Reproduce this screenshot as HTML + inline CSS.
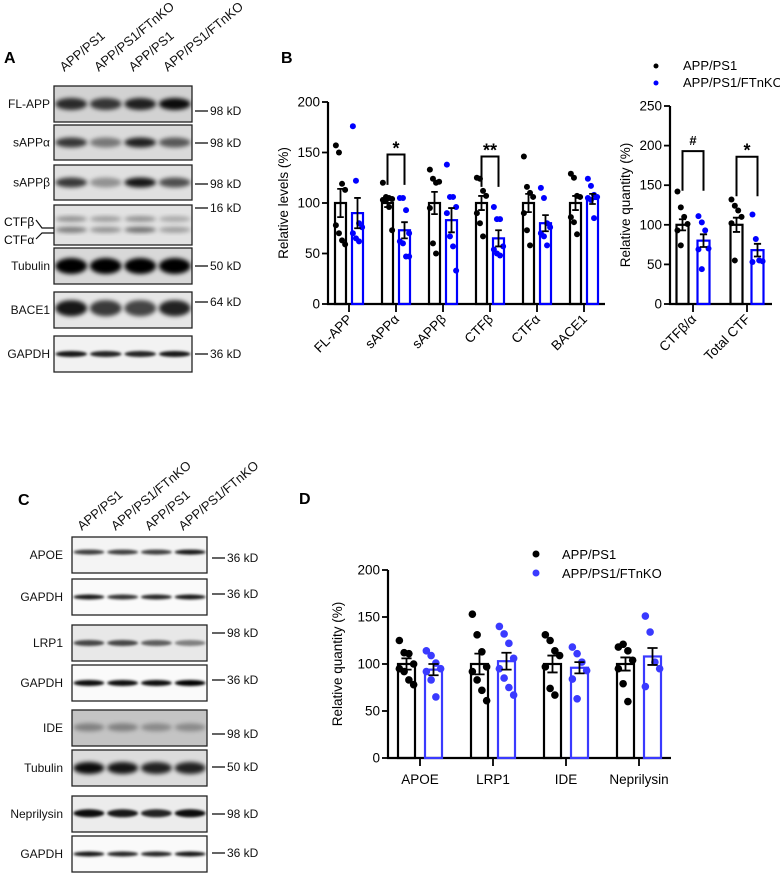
<!DOCTYPE html>
<html><head><meta charset="utf-8"><style>
html,body{margin:0;padding:0;background:#fff;}
svg{display:block;font-family:"Liberation Sans",Arial,sans-serif;}
</style></head><body>
<svg id="fig" width="780" height="874" viewBox="0 0 780 874" xmlns="http://www.w3.org/2000/svg">
<defs>
<filter id="blur2" x="-20%" y="-50%" width="140%" height="200%"><feGaussianBlur stdDeviation="2.2"/></filter>
<filter id="blur1" x="-20%" y="-50%" width="140%" height="200%"><feGaussianBlur stdDeviation="1.2"/></filter>
</defs>
<g id="panelA"></g>
<g id="panelB"></g>
<g id="panelC"></g>
<g id="panelD"></g>
</svg>
<script>
// ---------- Chart B data ----------
const bCategories = ["FL-APP","sAPPα","sAPPβ","CTFβ","CTFα","BACE1"];
const bMeanCtrl = [100,100,100,100,100,100];
const bSemCtrl = [14,4,11,7,9,7];
const bMeanKO = [90,73,83,65,80,104];
const bSemKO = [15,8,12,8,8,5];
const bPtsCtrl = [[157,150,119,113,78,70,63,59],[120,106,105,104,103,103,96,73],[133,124,120,121,95,60,50],[125,124,112,107,90,80,67],[146,116,110,106,90,73,58],[129,125,107,106,86,81,69]];
const bPtsKO = [[176,122,80,76,70,65,62],[105,105,93,70,62,60,47,47],[138,106,106,96,90,67,57,33],[96,84,84,57,54,50,48],[115,105,80,76,70,67,58],[124,117,108,106,105,103,85]];
const bTicks = [0,50,100,150,200];
const bSig = [null,"*",null,"**",null,null];
const bSigLevel = [null,148,null,146,null,null];
// ---------- Chart B right ----------
const rCategories = ["CTFβ/α","Total CTF"];
const rMeanCtrl = [100,100];
const rSemCtrl = [7,9];
const rMeanKO = [80,68];
const rSemKO = [8,8];
const rPtsCtrl = [[142,122,110,101,93,74],[132,124,118,110,102,55]];
const rPtsKO = [[111,103,93,70,69,44],[113,82,55,54,53]];
const rTicks = [0,50,100,150,200,250];
const rSig = ["#","*"];
const rSigLevel = [193,186];
// ---------- Chart D ----------
const dCategories = ["APOE","LRP1","IDE","Neprilysin"];
const dMeanCtrl = [100,100,100,100];
const dSemCtrl = [6,11,9,7];
const dMeanKO = [94,103,96,108];
const dSemKO = [6,9,6,9];
const dPtsCtrl = [[125,112,111,100,95,92,83,78],[153,131,113,97,92,83,72,61],[131,125,114,109,97,74,67],[118,121,114,104,95,79,60]];
const dPtsKO = [[114,109,101,95,92,83,65],[140,132,122,106,95,85,75,67],[118,111,102,93,84,63],[151,134,102,95,76]];
const dTicks = [0,50,100,150,200];

const NS="http://www.w3.org/2000/svg";
function mk(parent,tag,attrs,text){const e=document.createElementNS(NS,tag);for(const k in attrs)e.setAttribute(k,attrs[k]);if(text!==undefined)e.textContent=text;parent.appendChild(e);return e;}

// ---------- Blots ----------
function blotPanel(g,x0,x1,rows,labelX,kdX){
  const lanes=4,lw=(x1-x0)/lanes;
  rows.forEach((r,ri)=>{
    const bx=mk(g,"g",{});
    
    
    mk(bx,"rect",{x:x0,y:r.y0,width:x1-x0,height:r.y1-r.y0,fill:r.bg,stroke:"#222","stroke-width":1.3});
    const cp="cp"+g.id+ri;
    const c=mk(bx,"clipPath",{id:cp});mk(c,"rect",{x:x0,y:r.y0,width:x1-x0,height:r.y1-r.y0});
    const bg=mk(bx,"g",{"clip-path":"url(#"+cp+")"});
    r.bands.forEach(b=>{
      for(let i=0;i<lanes;i++){
        const cx=x0+lw*(i+0.5);
        mk(bg,"ellipse",{cx:cx,cy:r.y0+(r.y1-r.y0)*b.pos,rx:lw*0.46,ry:b.h,fill:"#000","fill-opacity":b.int[i],filter:"url(#"+(b.blur||"blur2")+")"});
      }
    });
    if(r.label){
      const t=mk(bx,"text",{x:labelX,y:(r.y0+r.y1)/2+4,"text-anchor":"end","font-size":12,fill:"#111"},r.label);
      
    }
    if(r.kd){
      const ky=r.kdY;
      mk(bx,"line",{x1:kdX,x2:kdX+13,y1:ky,y2:ky,stroke:"#111","stroke-width":1.3});
      const t=mk(bx,"text",{x:kdX+15,y:ky+4,"font-size":12,fill:"#111"},r.kd);
      
    }
  });
}
function laneHeaders(g,x0,x1,y,labels){
  const lw=(x1-x0)/4;
  labels.forEach((l,i)=>{
    const cx=x0+lw*(i+0.5)-7;
    const t=mk(g,"text",{x:cx,y:y,"font-size":13,fill:"#111",transform:"rotate(-40 "+cx+" "+y+")"},l);
    
  });
}
const lanesLbl=["APP/PS1","APP/PS1/FTnKO","APP/PS1","APP/PS1/FTnKO"];
const A=document.getElementById("panelA");
mk(A,"text",{x:4,y:63,"font-size":16,"font-weight":"bold"},"A");
laneHeaders(A,54,192,72,lanesLbl);
blotPanel(A,54,192,[
 {name:"fl-app",label:"FL-APP",y0:86,y1:122,bg:"#d2d2d2",kd:"98 kD",kdY:111,bands:[{pos:0.5,h:6,int:[0.8,0.75,0.85,0.95]}]},
 {name:"sappa",label:"sAPPα",y0:125,y1:160,bg:"#dadada",kd:"98 kD",kdY:143,bands:[{pos:0.5,h:5,int:[0.75,0.45,0.85,0.6]}]},
 {name:"sappb",label:"sAPPβ",y0:165,y1:200,bg:"#e0e0e0",kd:"98 kD",kdY:184,bands:[{pos:0.5,h:5,int:[0.75,0.35,0.9,0.65]}]},
 {name:"ctf",label:"",y0:205,y1:245,bg:"#e2e2e2",kd:"16 kD",kdY:208,bands:[{pos:0.35,h:3,int:[0.35,0.3,0.35,0.25]},{pos:0.62,h:3,int:[0.45,0.35,0.5,0.3]}]},
 {name:"tubulin",label:"Tubulin",y0:248,y1:284,bg:"#d8d8d8",kd:"50 kD",kdY:266,bands:[{pos:0.5,h:8,int:[1,1,1,1]}]},
 {name:"bace1",label:"BACE1",y0:292,y1:328,bg:"#e6e6e6",kd:"64 kD",kdY:302,bands:[{pos:0.45,h:8,int:[0.9,0.75,0.7,0.85]}]},
 {name:"gapdh",label:"GAPDH",y0:336,y1:372,bg:"#f2f2f2",kd:"36 kD",kdY:354,bands:[{pos:0.5,h:3,int:[0.9,0.85,0.85,0.9],blur:"blur1"}]}
],50,195);
mk(A,"text",{x:4,y:226,"font-size":12},"CTFβ");
mk(A,"text",{x:4,y:244,"font-size":12},"CTFα");
mk(A,"polyline",{points:"36,220 42,228 54,228",fill:"none",stroke:"#111","stroke-width":1.2});
mk(A,"polyline",{points:"36,239 42,233 54,233",fill:"none",stroke:"#111","stroke-width":1.2});

const C=document.getElementById("panelC");
mk(C,"text",{x:18,y:505,"font-size":16,"font-weight":"bold"},"C");
laneHeaders(C,72,207,531,lanesLbl);
blotPanel(C,72,207,[
 {name:"apoe",label:"APOE",y0:537,y1:573,bg:"#f4f4f4",kd:"36 kD",kdY:558,bands:[{pos:0.42,h:2.5,int:[0.75,0.75,0.75,0.9],blur:"blur1"}]},
 {name:"gapdh-1",label:"GAPDH",y0:579,y1:615,bg:"#fafafa",kd:"36 kD",kdY:594,bands:[{pos:0.5,h:2.5,int:[0.9,0.8,0.85,0.9],blur:"blur1"}]},
 {name:"lrp1",label:"LRP1",y0:625,y1:661,bg:"#e8e8e8",kd:"98 kD",kdY:633,bands:[{pos:0.5,h:3,int:[0.7,0.7,0.6,0.45],blur:"blur1"}]},
 {name:"gapdh-2",label:"GAPDH",y0:665,y1:701,bg:"#fafafa",kd:"36 kD",kdY:680,bands:[{pos:0.5,h:3,int:[0.95,0.95,0.95,1],blur:"blur1"}]},
 {name:"ide",label:"IDE",y0:710,y1:746,bg:"#c4c4c4",kd:"98 kD",kdY:734,bands:[{pos:0.48,h:4,int:[0.35,0.35,0.3,0.3]}]},
 {name:"tubulin",label:"Tubulin",y0:750,y1:786,bg:"#dcdcdc",kd:"50 kD",kdY:767,bands:[{pos:0.5,h:6,int:[0.95,0.9,0.85,0.85]}]},
 {name:"neprilysin",label:"Neprilysin",y0:796,y1:832,bg:"#ececec",kd:"98 kD",kdY:814,bands:[{pos:0.48,h:4,int:[0.95,0.9,0.85,0.95],blur:"blur1"}]},
 {name:"gapdh-3",label:"GAPDH",y0:836,y1:872,bg:"#fafafa",kd:"36 kD",kdY:853,bands:[{pos:0.5,h:2.5,int:[0.9,0.85,0.85,0.9],blur:"blur1"}]}
],63,212);

// ---------- Bar chart helper ----------
function barChart(g,o){
  const ys=v=>o.y0-(v-0)/(o.vmax)*(o.y0-o.yTop);
  mk(g,"line",{x1:o.ax,x2:o.ax,y1:ys(o.vmax),y2:o.y0+1,stroke:"#000","stroke-width":2.2});
  mk(g,"line",{x1:o.ax-1,x2:o.axEnd,y1:o.y0,y2:o.y0,stroke:"#000","stroke-width":2.2});
  o.ticks.forEach(t=>{
    mk(g,"line",{x1:o.ax-6,x2:o.ax,y1:ys(t),y2:ys(t),stroke:"#000","stroke-width":1.8});
    const tx=mk(g,"text",{x:o.ax-8,y:ys(t)+4.5,"text-anchor":"end","font-size":13.5},String(t));
    
  });
  const yt=mk(g,"text",{x:o.ytX,y:(o.y0+o.yTop)/2,"text-anchor":"middle","font-size":13.5,transform:"rotate(-90 "+o.ytX+" "+((o.y0+o.yTop)/2)+")"},o.yTitle);
  
  o.cats.forEach((c,i)=>{
    const tx=o.tick0+i*o.step;
    mk(g,"line",{x1:tx,x2:tx,y1:o.y0,y2:o.y0+8,stroke:"#000","stroke-width":1.8});
    let lbl;
    if(o.rot){lbl=mk(g,"text",{x:tx+4,y:o.y0+16,"text-anchor":"end","font-size":13.5,transform:"rotate(-45 "+(tx+4)+" "+(o.y0+16)+")"},c);}
    else{lbl=mk(g,"text",{x:tx,y:o.y0+26,"text-anchor":"middle","font-size":13.5},c);}
    
    [[o.mC,o.sC,o.pC,"#000",-o.off,"control"],[o.mK,o.sK,o.pK,o.blue,o.off,"ftnko"]].forEach(s=>{
      const cx=tx+s[4],m=s[0][i],se=s[1][i],col=s[3];
      const bar=mk(g,"rect",{x:cx-o.bw/2,y:ys(m),width:o.bw,height:o.y0-ys(m),fill:"none",stroke:col,"stroke-width":2.2});
      
      s[2][i].forEach((v,j)=>{
        const jit=((j%4)-1.5)*o.bw*0.28;
        const d=mk(g,"circle",{cx:cx+jit,cy:ys(v),r:o.dr,fill:col});
        
      });
      const eb=mk(g,"path",{d:"M"+cx+","+ys(m-se)+"V"+ys(m+se)+"M"+(cx-o.bw*0.3)+","+ys(m+se)+"H"+(cx+o.bw*0.3)+"M"+(cx-o.bw*0.3)+","+ys(m-se)+"H"+(cx+o.bw*0.3),stroke:"#000","stroke-width":1.8,fill:"none"});
      
    });
    if(o.sig&&o.sig[i]){
      const sy=ys(o.sigLv[i]),l=tx-o.off,r=tx+o.off,bot=ys(o.sigLv[i]-(o.sigDrop||30));
      const br=mk(g,"path",{d:"M"+l+","+bot+"V"+sy+"H"+r+"V"+bot,fill:"none",stroke:"#000","stroke-width":2});
      
      const st=mk(g,"text",{x:tx,y:sy-6+(o.sig[i].indexOf("*")>=0?6:0),"text-anchor":"middle","font-size":o.sig[i].indexOf("*")>=0?18:13,"font-weight":"bold"},o.sig[i]);
      
    }
  });
}
const Bg=document.getElementById("panelB");
mk(Bg,"text",{x:281,y:63,"font-size":16,"font-weight":"bold"},"B");
barChart(Bg,{ax:328,axEnd:605,y0:304,yTop:102,vmax:200,ticks:bTicks,cats:bCategories,tick0:349,step:47,off:8.5,bw:11,dr:3,
 mC:bMeanCtrl,sC:bSemCtrl,pC:bPtsCtrl,mK:bMeanKO,sK:bSemKO,pK:bPtsKO,blue:"#0000ff",rot:true,ytX:288,yTitle:"Relative levels (%)",sig:bSig,sigLv:bSigLevel,sigDrop:30});
const Rg=mk(Bg,"g",{});

barChart(Rg,{ax:670,axEnd:772,y0:304,yTop:106,vmax:250,ticks:rTicks,cats:rCategories,tick0:693,step:54,off:10.5,bw:12,dr:3,
 mC:rMeanCtrl,sC:rSemCtrl,pC:rPtsCtrl,mK:rMeanKO,sK:rSemKO,pK:rPtsKO,blue:"#0000ff",rot:true,ytX:630,yTitle:"Relative quantity (%)",sig:rSig,sigLv:rSigLevel,sigDrop:50});
const lgB=mk(Bg,"g",{});

mk(lgB,"circle",{cx:656,cy:66,r:2.5,fill:"#000"});
mk(lgB,"text",{x:683,y:70,"font-size":13},"APP/PS1");
mk(lgB,"circle",{cx:656,cy:83,r:2.5,fill:"#0000ff"});
mk(lgB,"text",{x:683,y:87,"font-size":13},"APP/PS1/FTnKO");

const Dg=document.getElementById("panelD");
mk(Dg,"text",{x:299,y:504,"font-size":16,"font-weight":"bold"},"D");
barChart(Dg,{ax:388,axEnd:671,y0:758,yTop:570,vmax:200,ticks:dTicks,cats:dCategories,tick0:420,step:73,off:13.5,bw:17,dr:3.8,
 mC:dMeanCtrl,sC:dSemCtrl,pC:dPtsCtrl,mK:dMeanKO,sK:dSemKO,pK:dPtsKO,blue:"#3a3aff",rot:false,ytX:342,yTitle:"Relative quantity (%)"});
const lgD=mk(Dg,"g",{});

mk(lgD,"circle",{cx:536,cy:554,r:3.5,fill:"#000"});
mk(lgD,"text",{x:562,y:559,"font-size":13},"APP/PS1");
mk(lgD,"circle",{cx:536,cy:573,r:3.5,fill:"#3a3aff"});
mk(lgD,"text",{x:562,y:578,"font-size":13},"APP/PS1/FTnKO");
</script>
</body></html>
